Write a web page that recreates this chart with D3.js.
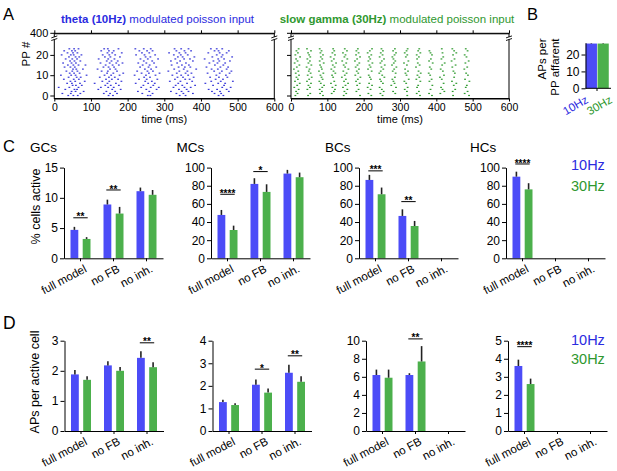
<!DOCTYPE html>
<html>
<head>
<meta charset="utf-8">
<script src="https://cdn.jsdelivr.net/npm/d3@7"></script>
<style>
  body { margin: 0; background: #fff; }
  svg { display: block; font-family: "Liberation Sans", Arial, sans-serif; }
</style>
</head>
<body>
<svg id="fig" width="617" height="471"></svg>
<script>

// ---- data ----
const groups = ['full model', 'no FB', 'no inh.'];
const freqs = ['10Hz', '30Hz'];
const timeTicks = [0, 100, 200, 300, 400, 500, 600];
const ppTicks = [0, 10, 20];

// spike times (ms) per PP afferent, row 0 at the bottom
const spikes10 = [
  '38 52 64 148 160 255 262 342 358 448 461',
  '22 45 71 135 152 171 240 268 333 352 378 437 455',
  '47 58 80 142 166 228 259 318 347 366 430 452 476',
  '30 55 62 120 158 181 251 279 340 361 421 444 470',
  '12 41 66 127 147 162 237 263 285 325 355 372 458 481',
  '50 59 75 139 154 176 243 270 331 349 384 433 463',
  '35 48 70 110 145 168 222 256 274 338 362 412 447 466',
  '44 57 83 131 150 183 248 266 315 344 376 428 454 487',
  '26 53 67 141 157 174 231 252 281 329 357 369 440 460',
  '39 61 72 124 149 165 245 261 336 351 380 425 449 472',
  '18 46 58 88 137 155 178 219 250 276 322 346 365 442 468',
  '42 54 69 144 161 188 238 258 287 334 358 374 418 451 478',
  '33 49 63 129 146 171 226 254 269 311 341 363 436 457 483',
  '51 60 78 118 152 167 247 264 327 353 387 429 446 470',
  '28 44 56 134 148 163 234 257 278 339 356 371 415 453 474',
  '37 52 66 85 140 159 176 241 260 320 348 367 438 461',
  '24 47 59 126 151 169 186 229 251 272 335 359 423 445 466',
  '43 55 71 143 156 173 244 267 318 343 378 434 450 479',
  '31 49 62 121 147 164 235 255 283 330 354 370 410 447 463',
  '40 58 68 138 153 179 249 262 337 350 382 431 456 485',
  '20 45 53 74 132 150 166 223 246 275 326 345 364 443 459',
  '36 51 63 145 158 184 239 259 313 341 358 420 451 470',
  '27 48 57 128 149 162 232 253 268 333 355 373 437 448 476',
  '41 54 66 136 146 175 221 244 263 328 346 366 427 443 458'
];
const spikes30 = [
  '12 47 88 145 190 221 252 320 355 388 446 490',
  '18 53 80 112 152 213 246 287 346 380 411 478',
  '14 85 118 147 180 255 281 319 352 422 445 486',
  '21 45 79 121 155 186 219 250 313 384 417 452',
  '9 52 86 114 143 211 244 289 321 347 413 481',
  '17 48 91 123 150 182 223 276 350 389 448 484',
  '24 55 82 110 157 189 215 253 285 317 420 455',
  '11 44 78 119 146 179 248 282 312 356 381 443 491',
  '19 50 87 151 184 220 245 279 324 345 387 415 479',
  '15 57 84 116 140 191 217 257 286 353 410 449',
  '22 46 81 113 148 177 214 251 318 348 383 421 487',
  '13 54 89 122 153 185 243 288 315 357 379 451 482',
  '20 49 77 117 144 181 222 247 280 322 351 418 447',
  '8 51 85 111 158 187 212 254 284 314 386 412 477',
  '16 43 83 120 149 178 219 249 290 344 382 444 485',
  '23 56 80 115 145 183 216 258 278 319 354 416 453',
  '10 48 90 124 152 188 224 246 283 311 349 390 423 480',
  '18 52 79 112 141 176 213 250 287 323 380 442 489',
  '14 45 86 118 155 182 218 256 282 347 385 414 450',
  '25 53 82 109 147 190 215 244 279 316 352 419 483',
  '12 50 88 121 150 179 221 252 285 320 346 388 446 478',
  '19 47 81 114 143 186 211 247 289 313 356 384 417 455',
  '15 55 84 119 154 180 217 253 281 318 350 381 449 486',
  '21 44 79 116 148 184 223 249 286 321 353 415 444 481'
];

// B: APs per PP afferent
const ppAPs = [26.5, 26.5];
const ppAPsErr = [0.3, 0.3];

// C: % cells active (mean, error)
const gcActive10 = [4.7, 8.9, 11.1],   gcActive10Err = [0.5, 0.8, 0.6];
const gcActive30 = [3.2, 7.4, 10.5],   gcActive30Err = [0.3, 1.1, 0.8];
const mcActive10 = [47.8, 82, 93.4],   mcActive10Err = [5.5, 6.3, 4.1];
const mcActive30 = [31.2, 73.2, 89.4], mcActive30Err = [4.8, 8.4, 5.1];
const bcActive10 = [86.4, 46.7, null], bcActive10Err = [5.6, 7.3, null];
const bcActive30 = [70.6, 35.6, null], bcActive30Err = [7.4, 5.6, null];
const hcActive10 = [90, null, null],   hcActive10Err = [5.5, null, null];
const hcActive30 = [76, null, null],   hcActive30Err = [6.8, null, null];

// D: APs per active cell
const gcAPs10 = [1.88, 2.18, 2.43], gcAPs10Err = [0.15, 0.14, 0.22];
const gcAPs30 = [1.70, 2.00, 2.12], gcAPs30Err = [0.12, 0.13, 0.16];
const mcAPs10 = [1.28, 2.05, 2.58], mcAPs10Err = [0.10, 0.23, 0.35];
const mcAPs30 = [1.15, 1.70, 2.18], mcAPs30Err = [0.08, 0.18, 0.24];
const bcAPs10 = [6.2, 6.2, null],   bcAPs10Err = [0.6, 0.2, null];
const bcAPs30 = [5.9, 7.7, null],   bcAPs30Err = [0.9, 1.7, null];
const hcAPs10 = [3.6, null, null],  hcAPs10Err = [0.35, null, null];
const hcAPs30 = [2.6, null, null],  hcAPs30Err = [0.3, null, null];

// significance bars: group index, height (data units), stars
const gcActiveSig = [[0, 6.7, '**'], [1, 11.3, '**']];
const mcActiveSig = [[0, 70.6, '****'], [1, 95.6, '*']];
const bcActiveSig = [[0, 96.4, '***'], [1, 62.5, '**']];
const hcActiveSig = [[0, 104, '****']];
const gcAPsSig = [[2, 2.93, '**']];
const mcAPsSig = [[1, 2.74, '*'], [2, 3.33, '**']];
const bcAPsSig = [[1, 10.2, '**']];
const hcAPsSig = [[0, 4.67, '****']];

// ---- styles ----
const blue = '#4c4cf7', green = '#4cb04c';
const blueText = '#2b2be0', greenText = '#2f982f';
const dotBlue = '#3636d8', dotGreen = '#2f9a2f';

const svg = d3.select('#fig');
svg.append('rect').attr('width', 617).attr('height', 471).attr('fill', '#fff');

function styleAxis(g, size) {
  g.attr('font-size', size || 11).attr('font-family', null);
  g.selectAll('line, path').attr('stroke', '#000');
  g.selectAll('text').attr('fill', '#000');
}

function label(txt, x, y, size, opts) {
  opts = opts || {};
  return svg.append('text')
    .attr('x', x).attr('y', y)
    .attr('font-size', size)
    .attr('text-anchor', opts.anchor || 'start')
    .attr('fill', opts.color || '#000')
    .attr('font-weight', opts.bold ? 'bold' : null)
    .attr('transform', opts.rotate ? `rotate(${opts.rotate},${x},${y})` : null)
    .text(txt);
}

// ---- A: rasters ----
function drawRaster(x0, x1, rows, color, showYLabels) {
  const x = d3.scaleLinear().domain([0, 600]).range([x0, x1]);
  const y = d3.scaleLinear().domain([0, 20]).range([95.5, 54.9]);
  const top = 33.3, bot = 98.5;

  svg.append('rect')
    .attr('x', x0).attr('y', top)
    .attr('width', x1 - x0).attr('height', bot - top)
    .attr('fill', 'none').attr('stroke', '#000').attr('stroke-width', 1);

  const gb = svg.append('g').attr('transform', `translate(0,${bot})`)
    .call(d3.axisBottom(x).tickValues(timeTicks).tickSize(3).tickSizeOuter(0).tickPadding(2));
  styleAxis(gb, 10.5);

  const gt = svg.append('g').attr('transform', `translate(0,${top})`)
    .call(d3.axisTop(x).tickValues(timeTicks).tickSize(3).tickSizeOuter(0).tickFormat(''));
  styleAxis(gt);

  const gl = svg.append('g').attr('transform', `translate(${x0},0)`)
    .call(d3.axisLeft(y).tickValues(ppTicks).tickSize(4).tickSizeOuter(0).tickPadding(2)
      .tickFormat(showYLabels ? d3.format('d') : ''));
  gl.select('.domain').remove();
  styleAxis(gl);
  // the "400" tick above the axis break
  svg.append('line').attr('x1', x0 - 4).attr('x2', x0).attr('y1', top).attr('y2', top).attr('stroke', '#000');
  if (showYLabels) label('400', x0 - 6, top + 4, 11, { anchor: 'end' });

  // axis break marks on both sides
  [x0, x1].forEach(bx => {
    svg.append('rect').attr('x', bx - 1).attr('y', 37).attr('width', 2).attr('height', 2.4).attr('fill', '#fff');
    [36.9, 39.5].forEach(by => {
      svg.append('line')
        .attr('x1', bx - 3).attr('x2', bx + 3)
        .attr('y1', by + 1).attr('y2', by - 1)
        .attr('stroke', '#000').attr('stroke-width', 0.9);
    });
  });

  const pts = [];
  rows.forEach((r, i) => r.split(' ').forEach(t => pts.push({ pp: i, t: +t })));
  svg.append('g').selectAll('rect').data(pts).enter().append('rect')
    .attr('x', d => x(d.t) - 0.9)
    .attr('y', d => y(d.pp) - 0.6)
    .attr('width', 1.8).attr('height', 1.2)
    .attr('fill', color);

  label('time (ms)', (x0 + x1) / 2, 122.5, 11, { anchor: 'middle' });
}

drawRaster(54.3, 274.3, spikes10, dotBlue, true);
drawRaster(291, 509, spikes30, dotGreen, false);
label('PP #', 30, 54, 11.5, { anchor: 'middle', rotate: -90 });

const t1 = svg.append('text').attr('x', 157.5).attr('y', 22.5).attr('font-size', 11.5)
  .attr('text-anchor', 'middle').attr('fill', blueText);
t1.append('tspan').attr('font-weight', 'bold').text('theta (10Hz)');
t1.append('tspan').text(' modulated poisson input');
const t2 = svg.append('text').attr('x', 397).attr('y', 22.5).attr('font-size', 11.5)
  .attr('text-anchor', 'middle').attr('fill', greenText);
t2.append('tspan').attr('font-weight', 'bold').text('slow gamma (30Hz)');
t2.append('tspan').text(' modulated poisson input');

// ---- B ----
{
  const y = d3.scaleLinear().domain([0, 27]).range([88.3, 42.7]);
  const x = d3.scaleBand().domain(freqs).range([585.5, 609]).paddingInner(0.05).paddingOuter(0.02);
  const bars = freqs.map((f, i) => ({ f, v: ppAPs[i], e: ppAPsErr[i] }));
  svg.append('g').selectAll('rect').data(bars).enter().append('rect')
    .attr('x', d => x(d.f)).attr('width', x.bandwidth())
    .attr('y', d => y(d.v)).attr('height', d => y(0) - y(d.v))
    .attr('fill', d => d.f === '10Hz' ? blue : green);
  svg.append('g').selectAll('line').data(bars).enter().append('line')
    .attr('x1', d => x(d.f) + x.bandwidth() / 2).attr('x2', d => x(d.f) + x.bandwidth() / 2)
    .attr('y1', d => y(d.v)).attr('y2', d => y(d.v + d.e))
    .attr('stroke', '#222').attr('stroke-width', 1.5);
  const gl = svg.append('g').attr('transform', 'translate(585.5,0)')
    .call(d3.axisLeft(y).tickValues([0, 10, 20]).tickSize(4).tickSizeOuter(0).tickPadding(2));
  styleAxis(gl, 12);
  svg.append('line').attr('x1', 585.5).attr('x2', 611).attr('y1', 88.3).attr('y2', 88.3).attr('stroke', '#000');
  svg.append('line').attr('x1', 597).attr('x2', 597).attr('y1', 88.3).attr('y2', 91).attr('stroke', '#000');
  label('10Hz', 589, 102, 11.5, { anchor: 'end', rotate: -30, color: blueText });
  label('30Hz', 613, 102, 11.5, { anchor: 'end', rotate: -30, color: greenText });
  label('APs per', 546, 38.5, 11.5, { anchor: 'end', rotate: -90 });
  label('PP affarent', 559, 38.5, 11.5, { anchor: 'end', rotate: -90 });
}

// ---- C and D: grouped bars ----
function barPanel(p) {
  const y = d3.scaleLinear().domain([0, p.max]).range([p.yBase, p.yTop]);
  const x = d3.scaleBand().domain(groups).range([p.x0, p.x0 + 99]);
  const xi = d3.scaleBand().domain(freqs).range([-10, 10]).paddingInner(0.36);

  const bars = [];
  groups.forEach((gname, i) => {
    if (p.v10[i] != null) bars.push({ g: gname, f: '10Hz', v: p.v10[i], e: p.e10[i] });
    if (p.v30[i] != null) bars.push({ g: gname, f: '30Hz', v: p.v30[i], e: p.e30[i] });
  });
  const cx = d => x(d.g) + x.bandwidth() / 2 + xi(d.f);

  svg.append('g').selectAll('rect').data(bars).enter().append('rect')
    .attr('x', d => cx(d)).attr('width', xi.bandwidth())
    .attr('y', d => y(d.v)).attr('height', d => y(0) - y(d.v))
    .attr('fill', d => d.f === '10Hz' ? blue : green);

  svg.append('g').selectAll('line').data(bars).enter().append('line')
    .attr('x1', d => cx(d) + xi.bandwidth() / 2).attr('x2', d => cx(d) + xi.bandwidth() / 2)
    .attr('y1', d => y(d.v)).attr('y2', d => y(d.v + d.e))
    .attr('stroke', '#222').attr('stroke-width', 1.6);

  const gl = svg.append('g').attr('transform', `translate(${p.x0},0)`)
    .call(d3.axisLeft(y).tickValues(p.ticks).tickSize(4).tickSizeOuter(0).tickPadding(2)
      .tickFormat(d3.format('d')));
  styleAxis(gl, 12);

  const gx = svg.append('g').attr('transform', `translate(0,${p.yBase})`)
    .call(d3.axisBottom(x).tickSize(3).tickSizeOuter(0));
  styleAxis(gx, 11.5);
  gx.selectAll('text')
    .attr('y', 0).attr('dy', 0).attr('x', 0)
    .attr('text-anchor', 'end')
    .attr('transform', 'translate(7,13) rotate(-28)');

  p.sig.forEach(s => {
    const c = x(groups[s[0]]) + x.bandwidth() / 2;
    const ly = y(s[1]);
    svg.append('line').attr('x1', c - 7.2).attr('x2', c + 7.2)
      .attr('y1', ly).attr('y2', ly).attr('stroke', '#000').attr('stroke-width', 1);
    label(s[2], c, ly + 2.6, 10, { anchor: 'middle', bold: true });
  });

  if (p.title) label(p.title, p.titleX, 152, 13.5);
}

const cBase = 258.3, cTop = 167.6, dBase = 431, dTop = 340.7;
const pctTicks = [0, 20, 40, 60, 80, 100];

barPanel({ x0: 64, yBase: cBase, yTop: cTop, max: 15, ticks: [0, 5, 10, 15],
  v10: gcActive10, e10: gcActive10Err, v30: gcActive30, e30: gcActive30Err, sig: gcActiveSig, title: 'GCs', titleX: 30 });
barPanel({ x0: 211, yBase: cBase, yTop: cTop, max: 100, ticks: pctTicks,
  v10: mcActive10, e10: mcActive10Err, v30: mcActive30, e30: mcActive30Err, sig: mcActiveSig, title: 'MCs', titleX: 176.5 });
barPanel({ x0: 359, yBase: cBase, yTop: cTop, max: 100, ticks: pctTicks,
  v10: bcActive10, e10: bcActive10Err, v30: bcActive30, e30: bcActive30Err, sig: bcActiveSig, title: 'BCs', titleX: 325 });
barPanel({ x0: 506, yBase: cBase, yTop: cTop, max: 100, ticks: pctTicks,
  v10: hcActive10, e10: hcActive10Err, v30: hcActive30, e30: hcActive30Err, sig: hcActiveSig, title: 'HCs', titleX: 470 });

barPanel({ x0: 64.5, yBase: dBase, yTop: dTop, max: 3, ticks: [0, 1, 2, 3],
  v10: gcAPs10, e10: gcAPs10Err, v30: gcAPs30, e30: gcAPs30Err, sig: gcAPsSig });
barPanel({ x0: 212.5, yBase: dBase, yTop: dTop, max: 4, ticks: [0, 1, 2, 3, 4],
  v10: mcAPs10, e10: mcAPs10Err, v30: mcAPs30, e30: mcAPs30Err, sig: mcAPsSig });
barPanel({ x0: 366, yBase: dBase, yTop: dTop, max: 10, ticks: [0, 2, 4, 6, 8, 10],
  v10: bcAPs10, e10: bcAPs10Err, v30: bcAPs30, e30: bcAPs30Err, sig: bcAPsSig });
barPanel({ x0: 508, yBase: dBase, yTop: dTop, max: 5, ticks: [0, 1, 2, 3, 4, 5],
  v10: hcAPs10, e10: hcAPs10Err, v30: hcAPs30, e30: hcAPs30Err, sig: hcAPsSig });

label('% cells active', 40, 206.5, 12.5, { anchor: 'middle', rotate: -90 });
label('APs per active cell', 39, 382, 12.5, { anchor: 'middle', rotate: -90 });

// legends
label('10Hz', 571, 169.5, 14.5, { color: blueText });
label('30Hz', 571, 191, 14.5, { color: greenText });
label('10Hz', 571, 344.5, 14.5, { color: blueText });
label('30Hz', 571, 363.5, 14.5, { color: greenText });

// panel letters
label('A', 3, 19.5, 16.5);
label('B', 527, 19.5, 16.5);
label('C', 3, 151.5, 16.5);
label('D', 3, 329, 17.5);

</script>
</body>
</html>
